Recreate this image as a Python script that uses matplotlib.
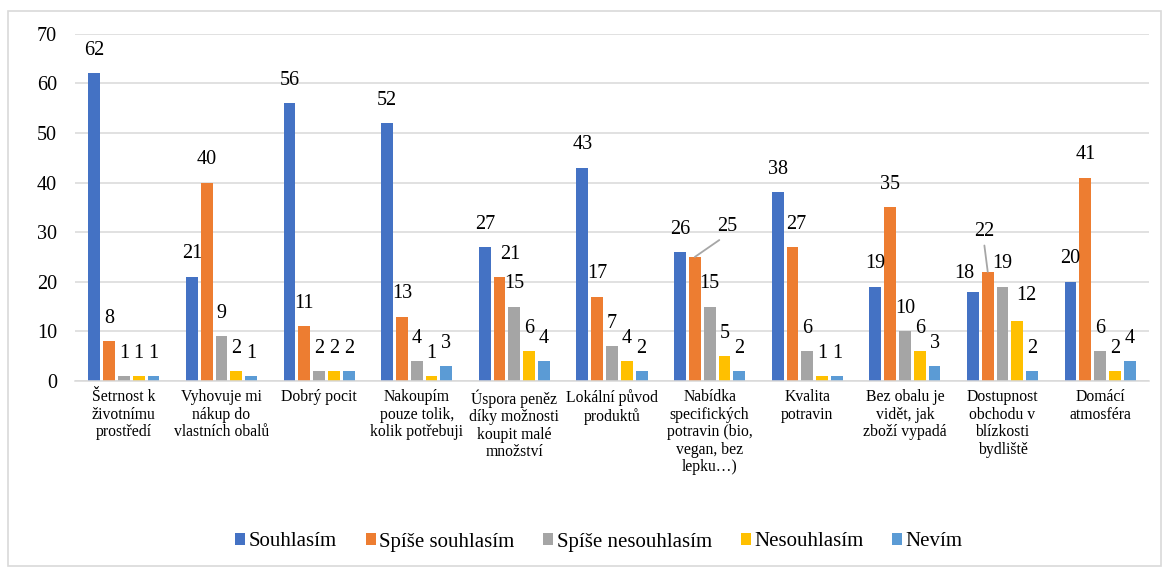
import matplotlib
matplotlib.use("Agg")
import matplotlib.pyplot as plt
from matplotlib.patches import Rectangle
from matplotlib.font_manager import FontProperties
import numpy as np

plt.rcParams['font.family'] = ['Liberation Serif', 'DejaVu Serif']

categories = [
    "Šetrnost k\nživotnímu\nprostředí",
    "Vyhovuje mi\nnákup do\nvlastních obalů",
    "Dobrý pocit",
    "Nakoupím\npouze tolik,\nkolik potřebuji",
    "Úspora peněz\ndíky možnosti\nkoupit malé\nmnožství",
    "Lokální původ\nproduktů",
    "Nabídka\nspecifických\npotravin (bio,\nvegan, bez\nlepku…)",
    "Kvalita\npotravin",
    "Bez obalu je\nvidět, jak\nzboží vypadá",
    "Dostupnost\nobchodu v\nblízkosti\nbydliště",
    "Domácí\natmosféra",
]
series_names = ["Souhlasím", "Spíše souhlasím", "Spíše nesouhlasím", "Nesouhlasím", "Nevím"]
souhlasim = [62, 21, 56, 52, 27, 43, 26, 38, 19, 18, 20]
spise_souhlasim = [8, 40, 11, 13, 21, 17, 25, 27, 35, 22, 41]
spise_nesouhlasim = [1, 9, 2, 4, 15, 7, 15, 6, 10, 19, 6]
nesouhlasim = [1, 2, 2, 1, 6, 4, 5, 1, 6, 12, 2]
nevim = [1, 1, 2, 3, 4, 2, 2, 1, 3, 2, 4]
yticks = [0, 10, 20, 30, 40, 50, 60, 70]

series = [souhlasim, spise_souhlasim, spise_nesouhlasim, nesouhlasim, nevim]
colors = ["#4472C4", "#ED7D31", "#A5A5A5", "#FFC000", "#5B9BD5"]

# label position tweaks (pixels) for labels moved in the original: (series, category) -> (dx, dy)
label_offsets = {
    (1, 4): (11, 22),
    (1, 6): (32, 30),
    (1, 7): (4, 23),
    (0, 9): (-9, 18),
    (1, 9): (-3, 40),
    (3, 9): (9, 26),
}
leader_lines = {(1, 6), (1, 9)}

W, H = 1167, 572
fig = plt.figure(figsize=(W / 100, H / 100), dpi=100)
fig.patches.append(Rectangle((8 / W, 1 - 566 / H), (1161 - 8) / W, (566 - 11) / H,
                             transform=fig.transFigure, fill=False,
                             edgecolor="#d9d9d9", linewidth=1.2))

ax = fig.add_axes([75 / W, 1 - 381 / H, (1149 - 75) / W, (381 - 33.7) / H])

n = len(categories)
x = np.arange(n)
pitch = 0.1516
width = 0.121
for j, (vals, name, col) in enumerate(zip(series, series_names, colors)):
    pos = x + (j - 2) * pitch
    ax.bar(pos, vals, width=width, color=col, label=name, zorder=3)
    for i, (px, v) in enumerate(zip(pos, vals)):
        dx, dy = label_offsets.get((j, i), (0, 23))
        kw = {}
        if (j, i) in leader_lines:
            kw['arrowprops'] = dict(arrowstyle='-', color="#a6a6a6", lw=1.3,
                                    shrinkA=1, shrinkB=0, relpos=(0.45, 0.05))
        ax.annotate(str(v), xy=(px, v), xytext=(dx, dy), textcoords='offset pixels',
                    ha='center', va='center', fontsize=14.5, color='#000000',
                    zorder=4, **kw)

ax.set_xlim(-0.5, n - 0.5)
ax.set_ylim(0, 70)
ax.set_yticks(yticks)
ax.set_yticklabels([str(t) for t in yticks], fontsize=14.5)
ax.set_xticks(x)
ax.set_xticklabels(categories, fontsize=11.3, linespacing=1.12, va='top')
ax.tick_params(axis='both', length=0)
ax.tick_params(axis='y', pad=13)
ax.tick_params(axis='x', pad=6)
ax.grid(axis='y', color='#d9d9d9', linewidth=1.1, zorder=0)
for s in ['top', 'right', 'left']:
    ax.spines[s].set_visible(False)
ax.spines['bottom'].set_color('#d9d9d9')
ax.spines['bottom'].set_linewidth(1.1)
ax.spines['bottom'].set_zorder(3.5)

leg_font = FontProperties(family=['Liberation Serif', 'DejaVu Serif'], size=15)
leg = fig.legend(loc='center', bbox_to_anchor=(599 / W, 1 - 542 / H), ncol=5,
                 frameon=False, prop=leg_font, handlelength=0.48, handleheight=0.48,
                 handletextpad=0.15, columnspacing=1.4, borderaxespad=0)

fig.savefig("out.png", dpi=100)
